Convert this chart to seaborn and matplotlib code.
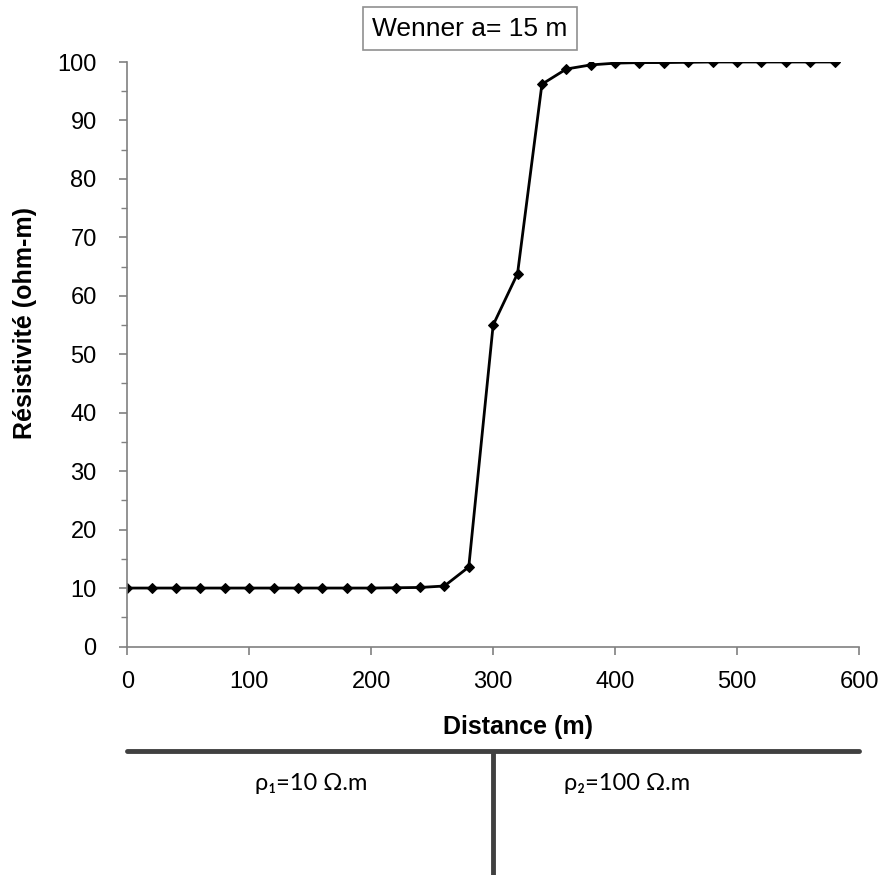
import matplotlib
matplotlib.use("Agg")
import matplotlib.pyplot as plt
import seaborn as sns
import pandas as pd
from matplotlib.ticker import MultipleLocator

distance = [0, 20, 40, 60, 80, 100, 120, 140, 160, 180, 200, 220, 240, 260, 280,
            300, 320, 340, 360, 380, 400, 420, 440, 460, 480, 500, 520, 540, 560, 580]
resistivity = [10.0, 10.0, 10.0, 10.0, 10.0, 10.0, 10.0, 10.0, 10.0, 10.0, 10.0, 10.05, 10.1, 10.35, 13.6,
               55.0, 63.8, 96.2, 98.8, 99.5, 99.8, 99.9, 99.9, 99.95, 100.0, 100.0, 100.0, 100.0, 100.0, 100.0]
x_ticks = [0, 100, 200, 300, 400, 500, 600]
y_ticks = [0, 10, 20, 30, 40, 50, 60, 70, 80, 90, 100]
boundary = 300
layer_labels = ["ρ₁=10 Ω.m", "ρ₂=100 Ω.m"]
layer_label_x = [151, 410]
title = "Wenner a= 15 m"

df = pd.DataFrame({"Distance": distance, "Res": resistivity})

sns.set_theme(style="white")
plt.rcParams['font.family'] = ['Liberation Sans', 'DejaVu Sans']
plt.rcParams['text.color'] = 'black'
plt.rcParams['axes.labelcolor'] = 'black'

W, H = 886, 880
fig = plt.figure(figsize=(8.86, 8.80), dpi=100)
L, R, T, B = 127.3, 859.0, 62.0, 646.5
ax = fig.add_axes([L / W, 1 - B / H, (R - L) / W, (B - T) / H])

sns.lineplot(data=df, x="Distance", y="Res", ax=ax, color="black", linewidth=2,
             marker="D", markersize=5, markeredgecolor="black")

ax.set_xlim(0, 600)
ax.set_ylim(0, 100)
ax.set_xticks(x_ticks)
ax.set_yticks(y_ticks)
ax.yaxis.set_minor_locator(MultipleLocator(5))
for s in ["top", "right"]:
    ax.spines[s].set_visible(False)
for s in ["left", "bottom"]:
    ax.spines[s].set_color("#808080")
    ax.spines[s].set_linewidth(1.2)
ax.tick_params(axis="both", which="major", direction="out", length=6, width=1.2,
               color="#808080", labelsize=17, labelcolor="black")
ax.tick_params(axis="y", which="major", pad=16, left=True)
ax.tick_params(axis="x", which="major", pad=12, bottom=True)
ax.tick_params(axis="y", which="minor", direction="out", length=4, width=1.0,
               color="#808080", left=True)
ax.set_xlabel("Distance (m)", fontsize=18, fontweight="bold", color="black")
ax.set_ylabel("Résistivité (ohm-m)", fontsize=18, fontweight="bold", color="black")
ax.xaxis.set_label_coords((518 - L) / (R - L), (B - 715) / (B - T))
ax.yaxis.set_label_coords((37 - L) / (R - L), (B - 323) / (B - T))

fig.text(469.7 / W, 1 - 28.5 / H, title, ha="center", va="center", fontsize=19, color="black",
         bbox=dict(boxstyle="square,pad=0.36", facecolor="white", edgecolor="#909090", linewidth=1.2))

# lower schematic
ax2 = fig.add_axes([L / W, 1 - 875 / H, (R - L) / W, (875 - 751) / H])
ax2.set_xlim(0, 600)
ax2.set_ylim(0, 1)
ax2.axis("off")
ax2.axhline(1, color="#404040", linewidth=3.5, clip_on=False)
ax2.axvline(boundary, color="#404040", linewidth=3.5)
for xpos, lab in zip(layer_label_x, layer_labels):
    ax2.text(xpos, 0.74, lab, ha="center", va="center", fontsize=17, color="black",
             family=["Lato", "DejaVu Sans"])

fig.savefig("out.png", dpi=100, facecolor="white")
